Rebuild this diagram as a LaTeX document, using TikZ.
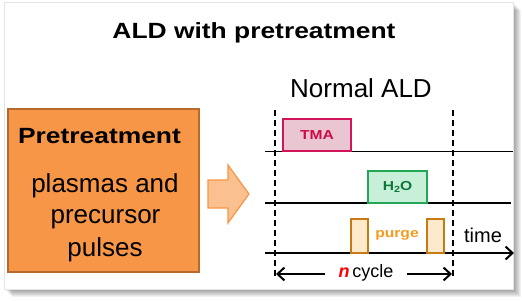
\documentclass[tikz,border=0pt]{standalone}
\usepackage{fontspec}
\setmainfont{Liberation Sans}
\newfontfamily\wideb[FakeStretch=1.2]{Liberation Sans}
\usetikzlibrary{arrows.meta}
\definecolor{boxorange}{HTML}{F79646}
\definecolor{boxborder}{HTML}{B86A2E}
\definecolor{arrfill}{HTML}{FAC090}
\definecolor{tmafill}{HTML}{EAC6D3}
\definecolor{tmaline}{HTML}{D4145A}
\definecolor{tmatext}{HTML}{CC0A44}
\definecolor{hfill}{HTML}{C8EFD8}
\definecolor{hline}{HTML}{22A855}
\definecolor{htext}{HTML}{0E7A3A}
\definecolor{pfill}{HTML}{FDEACD}
\definecolor{pline}{HTML}{C77A12}
\definecolor{ptext}{HTML}{F29B1D}
\tikzset{
  boldtxt/.style={font=\wideb\bfseries\fontsize{22}{26}\selectfont, inner sep=0pt},
  bodytxt/.style={font=\fontsize{26}{30}\selectfont, inner sep=0pt},
  pulse/.style={draw=#1, line width=1.3pt, inner sep=0pt},
  vdash/.style={line width=1.4pt, dash pattern=on 6pt off 4pt},
  chev/.style={-{Straight Barb[length=7pt,width=13pt,line width=2pt]}, line width=2.5pt},
}
\begin{document}
\begin{tikzpicture}[x=1pt,y=-1pt]
\useasboundingbox (0,0) rectangle (522,300);
% card shadow
\foreach \i in {1,...,8}
  \fill[black,opacity=0.055] (4+\i,2+\i) rectangle (513+\i,289+\i);
\fill[white] (4,2) rectangle (513,289);
\draw[black!10,line width=0.5pt] (4,2) rectangle (513,289);
% title
\node[boldtxt, anchor=base] (title) at (254,38) {ALD with pretreatment};
% pretreatment box
\node[draw=boxborder, fill=boxorange, line width=2pt, minimum width=191pt, minimum height=163pt, inner sep=0pt] (pbox) at (103,190) {};
\node[boldtxt, anchor=base] (ptitle) at (99.5,143) {Pretreatment};
\node[bodytxt, anchor=base] (l1) at (105,192) {plasmas and};
\node[bodytxt, anchor=base] (l2) at (105.5,223) {precursor};
\node[bodytxt, anchor=base] (l3) at (105,256) {pulses};
% block arrow
\draw[draw=boxorange, fill=arrfill, line width=1.2pt]
  (208,180) -- (228,180) -- (228,165) -- (249,194) -- (228,223) -- (228,208) -- (208,208) -- cycle;
% Normal ALD
\node[bodytxt, anchor=base] (normal) at (361,97) {Normal ALD};
% timing lines
\coordinate (l1a) at (265,151); \coordinate (l1b) at (513,151);
\coordinate (l2a) at (265,203); \coordinate (l2b) at (511,203);
\coordinate (ta) at (265,253); \coordinate (tb) at (514,253);
\draw[line width=1pt] (l1a) -- (l1b);
\draw[line width=1.8pt] (l2a) -- (l2b);
\draw[-{Straight Barb[length=7pt,width=13pt,line width=2pt]}, line width=2pt] (ta) -- (tb);
% pulses
\node[pulse=tmaline, fill=tmafill, minimum width=68pt, minimum height=32pt,
      font=\wideb\bfseries\fontsize{13}{15}\selectfont, text=tmatext] (tma) at (317,135) {TMA};
\node[pulse=hline, fill=hfill, minimum width=59pt, minimum height=32pt,
      font=\wideb\bfseries\fontsize{13}{15}\selectfont, text=htext] (h2o) at (397.5,187)
      {H\raisebox{-0.35ex}{\fontsize{9}{9}\selectfont 2}O};
\node[pulse=pline, fill=pfill, minimum width=17pt, minimum height=34pt] (pg1) at (359.5,236) {};
\node[pulse=pline, fill=pfill, minimum width=17pt, minimum height=34pt] (pg2) at (435.5,236) {};
\node[font=\wideb\bfseries\fontsize{13}{15}\selectfont, text=ptext, anchor=base, inner sep=0pt] (purge) at (397,237) {purge};
\node[font=\fontsize{20}{24}\selectfont, anchor=base, inner sep=0pt] (time) at (483,242) {time};
% dashed cycle boundaries
\coordinate (d1a) at (275,110); \coordinate (d1b) at (275,276);
\coordinate (d2a) at (453,110); \coordinate (d2b) at (453,276);
\draw[vdash] (d1a) -- (d1b);
\draw[vdash] (d2a) -- (d2b);
% n cycle
\node[font=\fontsize{18}{22}\selectfont, inner xsep=13pt, inner ysep=0pt] (ncyc) at (366,273)
  {\textcolor{red}{\bfseries\itshape n}\,cycle};
\coordinate (ca) at (276,274); \coordinate (cb) at (452,274);
\draw[chev] (ncyc.west |- ca) -- (ca);
\draw[chev] (ncyc.east |- cb) -- (cb);
\end{tikzpicture}
\end{document}
